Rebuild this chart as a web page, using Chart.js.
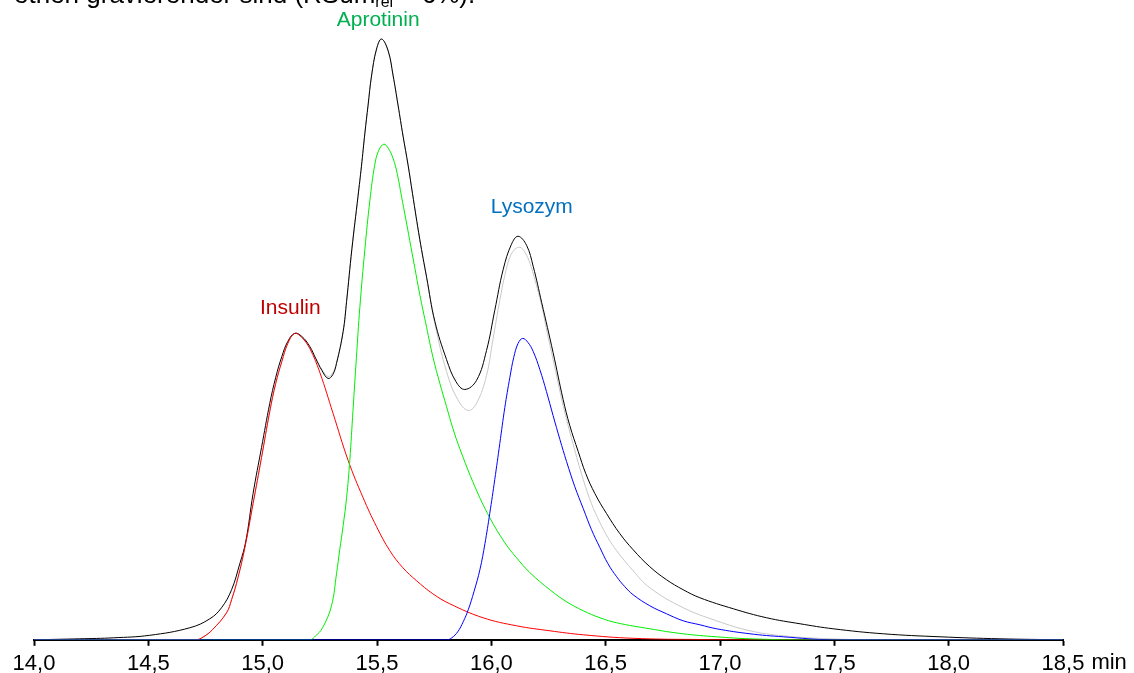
<!DOCTYPE html>
<html>
<head>
<meta charset="utf-8">
<script src="https://cdn.jsdelivr.net/npm/chart.js@4/dist/chart.umd.min.js"></script>
<style>
  html, body { margin: 0; padding: 0; background: #fff; overflow: hidden; }
  #wrap { position: relative; width: 1134px; height: 673px; overflow: hidden; }
  #top { position: absolute; left: 14px; top: -21px; font: 26px "Liberation Sans", Arial, sans-serif; color: #000; white-space: nowrap; line-height: 31px; }
  #top sub { font-size: 16px; vertical-align: -4px; }
  canvas { position: absolute; left: 0; top: 0; }
</style>
</head>
<body>
<div id="wrap">
  <canvas id="c" width="1134" height="682"></canvas>
  <div id="top">ethen gravierender sind (RSum<sub>rel</sub> ≈ 6%).</div>
</div>
<script>
// ---- data (time in min, signal in arbitrary units) ----
const xTicks = [14.0, 14.5, 15.0, 15.5, 16.0, 16.5, 17.0, 17.5, 18.0, 18.5];
const tickUnit = "min";

// measured chromatogram (black)
const measuredT = [14.0, 14.2, 14.349, 14.506, 14.681, 14.769, 14.82, 14.864, 14.9, 14.926, 14.958, 14.995, 15.031, 15.057, 15.084, 15.11, 15.14, 15.171, 15.206, 15.232, 15.259, 15.286, 15.307, 15.323, 15.352, 15.367, 15.39, 15.417, 15.432, 15.447, 15.461, 15.476, 15.498, 15.52, 15.549, 15.57, 15.592, 15.614, 15.636, 15.655, 15.687, 15.717, 15.753, 15.804, 15.845, 15.884, 15.935, 15.979, 16.015, 16.052, 16.088, 16.117, 16.154, 16.183, 16.22, 16.27, 16.314, 16.343, 16.38, 16.413, 16.453, 16.504, 16.562, 16.62, 16.693, 16.766, 16.839, 16.912, 17.058, 17.204, 17.35, 17.495, 17.714, 17.962, 18.224, 18.5];
const measuredH = [0, 1, 2, 4.5, 12, 21, 32, 50, 76, 98, 146, 192, 236, 262, 283, 298, 306, 303, 293, 281, 269, 261, 265, 276, 308, 338, 390, 443, 473, 506, 534, 563, 590, 600, 588, 564, 534, 503, 474, 446, 400, 362, 318, 280, 258, 250, 259, 289, 329, 370, 395, 403, 394, 373, 337, 287, 240, 214, 188, 166, 146, 126, 106, 90, 73, 60, 50, 42, 31, 22, 16, 11, 6, 3, 1, 0];

// sum of fitted peaks (light grey)
const fitSumT = [14.0, 14.707, 14.741, 14.78, 14.842, 14.864, 14.892, 14.922, 14.958, 14.995, 15.031, 15.057, 15.084, 15.11, 15.14, 15.171, 15.206, 15.232, 15.259, 15.286, 15.307, 15.323, 15.352, 15.367, 15.39, 15.417, 15.432, 15.447, 15.461, 15.476, 15.498, 15.52, 15.549, 15.57, 15.592, 15.614, 15.636, 15.655, 15.687, 15.717, 15.753, 15.804, 15.853, 15.899, 15.937, 15.979, 16.007, 16.037, 16.059, 16.081, 16.103, 16.125, 16.147, 16.169, 16.19, 16.22, 16.243, 16.27, 16.314, 16.357, 16.402, 16.438, 16.475, 16.51, 16.548, 16.62, 16.693, 16.839, 16.985, 17.131, 17.276, 17.48, 17.7, 18.5];
const fitSumH = [0, 0, 3, 10, 27, 40, 62, 92, 136, 182, 228, 256, 278, 296, 306, 302, 291, 281, 270, 263, 267, 277, 308, 338, 390, 443, 473, 506, 534, 563, 590, 600, 588, 564, 534, 503, 474, 446, 400, 362, 316, 268, 240, 229, 237, 264, 300, 339, 364, 382, 390, 392, 387, 376, 360, 334, 308, 280, 234, 196, 160, 136, 117, 102, 89, 69, 52, 32, 19, 9, 4, 1, 0, 0];

// Insulin (red)
const insulinT = [14.0, 14.707, 14.741, 14.78, 14.842, 14.864, 14.892, 14.922, 14.958, 14.995, 15.031, 15.057, 15.084, 15.11, 15.14, 15.171, 15.206, 15.25, 15.308, 15.374, 15.439, 15.498, 15.556, 15.613, 15.673, 15.744, 15.818, 15.964, 16.11, 16.256, 16.402, 16.619, 16.912, 17.4, 18.5];
const insulinH = [0, 0, 3, 10, 27, 40, 62, 92, 136, 182, 228, 256, 278, 296, 306, 302, 291, 267, 226, 179, 142, 113, 89, 72, 59, 46, 36, 22, 14, 9, 5, 1.5, 0.3, 0, 0];

// Aprotinin (green)
const aprotininT = [14.0, 15.206, 15.232, 15.262, 15.301, 15.323, 15.337, 15.352, 15.367, 15.381, 15.395, 15.41, 15.425, 15.447, 15.469, 15.49, 15.508, 15.53, 15.549, 15.57, 15.589, 15.607, 15.626, 15.643, 15.665, 15.687, 15.717, 15.745, 15.775, 15.804, 15.832, 15.862, 15.928, 15.993, 16.059, 16.11, 16.169, 16.256, 16.329, 16.402, 16.475, 16.548, 16.693, 16.838, 16.985, 17.131, 17.35, 18.5];
const aprotininH = [0, 0, 4, 12, 34, 66, 90, 114, 142, 179, 229, 282, 332, 390, 439, 474, 489, 495, 491, 481, 465, 443, 420, 399, 372, 345, 312, 282, 256, 233, 211, 191, 153, 122, 97, 82, 67, 50, 38, 29, 22, 17, 11, 6, 3, 1, 0, 0];

// Lysozym (blue)
const lysozymT = [14.0, 15.804, 15.827, 15.853, 15.877, 15.899, 15.924, 15.95, 15.972, 15.993, 16.015, 16.037, 16.059, 16.081, 16.098, 16.117, 16.137, 16.16, 16.183, 16.212, 16.241, 16.27, 16.3, 16.329, 16.365, 16.402, 16.438, 16.475, 16.51, 16.548, 16.584, 16.62, 16.693, 16.766, 16.839, 16.912, 16.985, 17.131, 17.276, 17.495, 18.5];
const lysozymH = [0, 0, 2, 8, 18, 30, 48, 70, 96, 126, 160, 196, 232, 262, 282, 296, 301, 297, 288, 270, 248, 224, 200, 178, 153, 131, 110, 92, 76, 63, 53, 45, 34, 26, 19, 15, 11, 6, 3, 0, 0];

const peakNames = ["Insulin", "Aprotinin", "Lysozym"];
const peakLabelT = [15.121, 15.505, 16.177];
const peakLabelH = [331, 619, 432];
const peakColors = ["#c00000", "#00b050", "#0070c0"];

// ---- build ----
const pts = (T, H) => T.map((t, i) => ({ x: t, y: H[i] }));
const FONT = '"Liberation Sans", Arial, sans-serif';

const ds = (label, T, H, color, order) => ({
  label, data: pts(T, H), borderColor: color, borderWidth: 1,
  pointRadius: 0, fill: false, tension: 0.4, order
});

const labelPlugin = {
  id: 'peakLabels',
  afterDatasetsDraw(chart) {
    const { ctx, scales: { x, y } } = chart;
    ctx.save();
    ctx.font = '21px ' + FONT;
    ctx.textAlign = 'center';
    ctx.textBaseline = 'middle';
    peakNames.forEach((n, i) => {
      ctx.fillStyle = peakColors[i];
      ctx.fillText(n, x.getPixelForValue(peakLabelT[i]), y.getPixelForValue(peakLabelH[i]));
    });
    // unit after last tick label
    const last = xTicks[xTicks.length - 1];
    const lastLabel = last.toFixed(1).replace('.', ',');
    ctx.font = '22px ' + FONT;
    const w = ctx.measureText(lastLabel).width;
    ctx.fillStyle = '#000';
    ctx.textAlign = 'left';
    ctx.fillText(tickUnit, x.getPixelForValue(last) + w / 2 + 7, y.bottom + 23);
    ctx.restore();
  }
};

new Chart(document.getElementById('c'), {
  type: 'line',
  data: {
    datasets: [
      ds('Summe Fit', fitSumT, fitSumH, '#c8c8c8', 5),
      ds('Messung', measuredT, measuredH, '#000000', 4),
      ds('Insulin', insulinT, insulinH, '#ff0000', 3),
      ds('Aprotinin', aprotininT, aprotininH, '#00ee00', 2),
      ds('Lysozym', lysozymT, lysozymH, '#0000ff', 1)
    ]
  },
  options: {
    responsive: false,
    animation: false,
    devicePixelRatio: 1,
    layout: { padding: { left: 34, right: 71, top: 19, bottom: 0 } },
    plugins: { legend: { display: false }, tooltip: { enabled: false } },
    scales: {
      x: {
        type: 'linear', min: 14, max: 18.5,
        afterBuildTicks: (s) => { s.ticks = xTicks.map(v => ({ value: v })); },
        ticks: {
          autoSkip: false, maxRotation: 0, color: '#000', padding: 6,
          font: { family: FONT, size: 22, lineHeight: 1.1 },
          callback: (v) => Number(v).toFixed(1).replace('.', ',')
        },
        grid: { display: true, drawOnChartArea: false, drawTicks: true, tickLength: 6, tickWidth: 2, tickColor: '#000', color: '#000' },
        border: { display: true, color: '#000', width: 2 }
      },
      y: {
        display: false, min: 0, max: 620
      }
    }
  },
  plugins: [labelPlugin]
});
</script>
</body>
</html>
